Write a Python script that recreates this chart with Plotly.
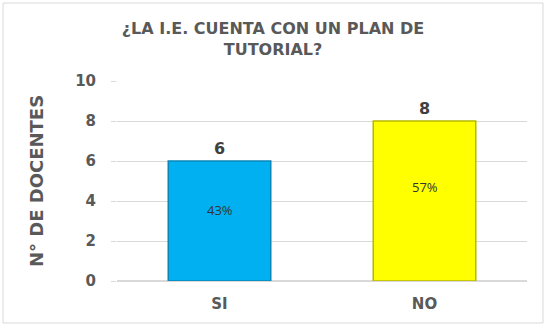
import plotly.graph_objects as go

categories = ["SI", "NO"]
values = [6, 8]
percent_labels = ["43%", "57%"]
bar_colors = ["#00B0F0", "#FFFF00"]
edge_colors = ["#0A86B8", "#B8B800"]
y_ticks = [0, 2, 4, 6, 8, 10]

HEAVY = "DejaVu Sans"

fig = go.Figure()
fig.add_trace(go.Bar(
    x=categories, y=values,
    marker=dict(color=bar_colors, line=dict(color=edge_colors, width=1.5)),
    width=0.5,
    text=[str(v) for v in values], textposition="outside",
    textfont=dict(family=HEAVY, size=16, color="#404040", weight="bold"),
    cliponaxis=False,
))
for c, v, p in zip(categories, values, percent_labels):
    fig.add_annotation(x=c, y=v * 0.59, text=p, showarrow=False,
                       font=dict(family="Open Sans", size=13, color="#333333"))

fig.update_layout(
    width=546, height=327,
    margin=dict(l=117, r=19, t=81, b=46),
    paper_bgcolor="white", plot_bgcolor="white",
    showlegend=False,
    title=dict(text="¿LA I.E. CUENTA CON UN PLAN DE<br>TUTORIAL?", x=0.5, xanchor="center",
               y=0.895, yanchor="top",
               font=dict(family=HEAVY, size=16, color="#595959", weight="bold")),
    xaxis=dict(tickfont=dict(family=HEAVY, size=15, color="#595959", weight="bold"),
               showline=False, ticks="", showgrid=False, ticklabelstandoff=12),
    yaxis=dict(range=[0, 10], tickvals=y_ticks, showgrid=True, gridcolor="#D9D9D9", gridwidth=1,
               zeroline=True, zerolinecolor="#D9D9D9",
               ticks="outside", ticklen=5, tickcolor="#D9D9D9", ticklabelstandoff=12,
               tickfont=dict(family=HEAVY, size=15, color="#595959", weight="bold"),
               title=dict(text="N° DE DOCENTES", standoff=26,
                          font=dict(family=HEAVY, size=18, color="#595959", weight="bold"))),
    shapes=[dict(type="rect", xref="paper", yref="paper", x0=-0.278, x1=1.039, y0=-0.21, y1=1.39,
                 line=dict(color="#D9D9D9", width=1))]
)
fig.write_html("out.html")
